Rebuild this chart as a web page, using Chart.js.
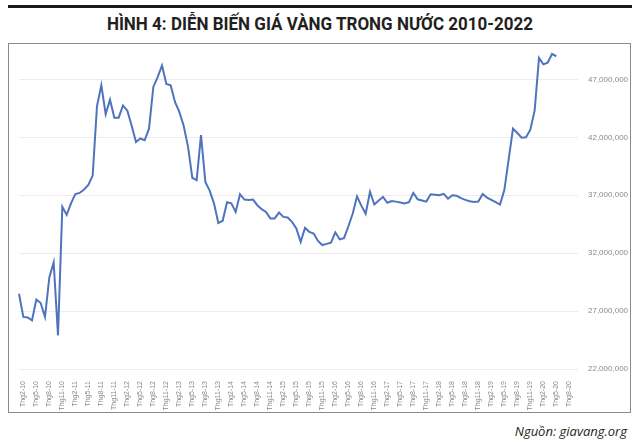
<!DOCTYPE html>
<html>
<head>
<meta charset="utf-8">
<script src="https://cdn.jsdelivr.net/npm/chart.js@4.4.1/dist/chart.umd.min.js"></script>
<style>
  body { margin: 0; width: 640px; height: 445px; background: #fff; position: relative; overflow: hidden; }
  #rule { position: absolute; left: 8px; top: 5px; width: 624px; height: 3px; background: #1a1a1a; }
  #title { position: absolute; left: 0; top: 12px; width: 640px; text-align: center;
           font-family: 'Roboto', sans-serif; font-weight: bold; font-size: 19px; color: #231f20;
           transform: scaleX(0.895); transform-origin: 320px 0; }
  #box { position: absolute; left: 8px; top: 43px; width: 621px; height: 368px; border: 1px solid #8a8a8a; }
  #source { position: absolute; right: 13px; top: 422px; font-family: 'Open Sans', sans-serif; font-style: italic;
            font-size: 13px; color: #231f20; }
</style>
</head>
<body>
<div id="rule"></div>
<div id="title">HÌNH 4: DIỄN BIẾN GIÁ VÀNG TRONG NƯỚC 2010-2022</div>
<div id="box"><canvas id="chart"></canvas></div>
<div id="source">Nguồn: giavang.org</div>
<script>
// months on the axis, Jan 2010 .. Oct 2020
var years = ['10', '11', '12', '13', '14', '15', '16', '17', '18', '19', '20'];
var months = [1, 2, 3, 4, 5, 6, 7, 8, 9, 10, 11, 12];
var labels = [];
years.forEach(function (y) {
  months.forEach(function (m) {
    if (y === '20' && m > 10) return;
    labels.push('Thg' + m + '-' + y);
  });
});

// only every third month is written under the axis
var shownTicks = [
  'Thg2-10', 'Thg5-10', 'Thg8-10', 'Thg11-10', 'Thg2-11', 'Thg5-11', 'Thg8-11', 'Thg11-11',
  'Thg2-12', 'Thg5-12', 'Thg8-12', 'Thg11-12', 'Thg2-13', 'Thg5-13', 'Thg8-13', 'Thg11-13',
  'Thg2-14', 'Thg5-14', 'Thg8-14', 'Thg11-14', 'Thg2-15', 'Thg5-15', 'Thg8-15', 'Thg11-15',
  'Thg2-16', 'Thg5-16', 'Thg8-16', 'Thg11-16', 'Thg2-17', 'Thg5-17', 'Thg8-17', 'Thg11-17',
  'Thg2-18', 'Thg5-18', 'Thg8-18', 'Thg11-18', 'Thg2-19', 'Thg5-19', 'Thg8-19', 'Thg11-19',
  'Thg2-20', 'Thg5-20', 'Thg8-20'
];

// gold price, VND per luong
var goldPrice = [
  28500000, 26500000, 26450000, 26200000, 28000000, 27700000, 26500000, 29900000, 31200000, 24900000,
  36000000, 35300000, 36300000, 37100000, 37200000, 37500000, 37900000, 38700000, 44700000, 46500000,
  44000000, 45250000, 43700000, 43700000, 44750000, 44300000, 43000000, 41600000, 41900000, 41750000,
  42750000, 46350000, 47200000, 48200000, 46600000, 46500000, 45050000, 44200000, 43000000, 41200000,
  38500000, 38300000, 42200000, 38150000, 37400000, 36300000, 34600000, 34800000, 36400000, 36300000,
  35560000, 37090000, 36630000, 36600000, 36630000, 36140000, 35800000, 35560000, 35000000, 35000000,
  35500000, 35130000, 35080000, 34700000, 34130000, 32970000, 34180000, 33840000, 33700000, 33060000,
  32700000, 32800000, 32900000, 33800000, 33200000, 33300000, 34300000, 35400000, 36900000, 36100000,
  35400000, 37300000, 36200000, 36550000, 36850000, 36350000, 36500000, 36450000, 36380000, 36300000,
  36400000, 37200000, 36650000, 36550000, 36450000, 37090000, 37050000, 37000000, 37120000, 36700000,
  37000000, 36950000, 36750000, 36600000, 36480000, 36420000, 36450000, 37100000, 36800000, 36600000,
  36400000, 36200000, 37450000, 40100000, 42750000, 42370000, 41970000, 42000000, 42660000, 44330000,
  48860000, 48300000, 48450000, 49200000, 49000000
];

var yTicks = [22000000, 27000000, 32000000, 37000000, 42000000, 47000000];

Chart.defaults.font.family = "'Liberation Sans', Arial, sans-serif";
Chart.defaults.color = '#7a7a7a';

var ctx = document.getElementById('chart');
var myChart = new Chart(ctx, {
  type: 'line',
  data: {
    labels: labels,
    datasets: [{
      label: 'Giá vàng',
      data: goldPrice,
      borderColor: '#4f74bd',
      borderWidth: 2,
      pointRadius: 0,
      tension: 0,
      fill: false,
      clip: false
    }]
  },
  options: {
    responsive: true,
    maintainAspectRatio: false,
    animation: false,
    layout: { padding: { left: 10, top: 0, right: 0, bottom: 0 } },
    plugins: {
      legend: { display: false },
      tooltip: { enabled: false }
    },
    scales: {
      x: {
        grid: { display: false },
        border: { display: false },
        ticks: {
          autoSkip: false,
          minRotation: 90,
          maxRotation: 90,
          padding: 4,
          font: { size: 7 },
          color: '#8a8a8a',
          callback: function (val) {
            var l = this.getLabelForValue(val);
            return shownTicks.indexOf(l) >= 0 ? l : '';
          }
        },
        afterFit: function (scale) { scale.height = 43; }
      },
      y: {
        position: 'right',
        min: 22000000,
        max: 48780000,
        grid: { color: '#ececec', drawTicks: false, lineWidth: 1 },
        border: { display: false },
        afterBuildTicks: function (scale) {
          scale.ticks = yTicks.map(function (v) { return { value: v }; });
        },
        ticks: {
          padding: 10,
          font: { size: 8 },
          color: '#8a8a8a',
          callback: function (v) { return v.toLocaleString('en-US'); }
        },
        afterFit: function (scale) { scale.width = 52; }
      }
    }
  }
});
</script>
</body>
</html>
